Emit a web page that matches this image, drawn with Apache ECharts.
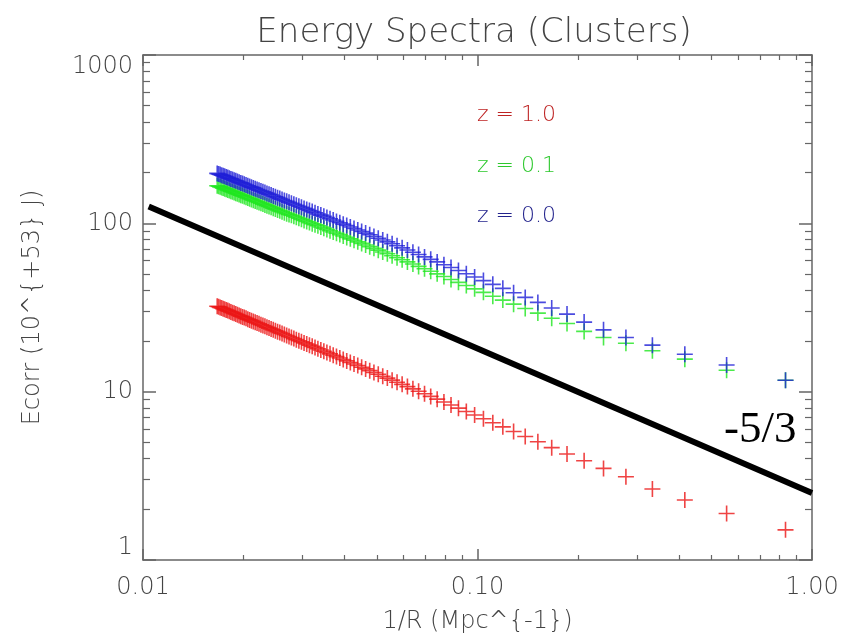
<!DOCTYPE html>
<html>
<head>
<meta charset="utf-8">
<title>Energy Spectra (Clusters)</title>
<script src="https://cdn.jsdelivr.net/npm/echarts@6/dist/echarts.min.js"></script>
<style>
  html, body { margin: 0; padding: 0; background: #fff; }
  #main { width: 843px; height: 642px; }
</style>
</head>
<body>
<div id="main"></div>
<script>
// scale R in Mpc (the x axis shows 1/R)
var radius = [
    1.2, 1.8, 2.4, 3.0, 3.6, 4.2, 4.8, 5.4, 6.0, 6.6,
    7.2, 7.8, 8.4, 9.0, 9.6, 10.2, 10.8, 11.4, 12.0, 12.6,
    13.2, 13.8, 14.4, 15.0, 15.6, 16.2, 16.8, 17.4, 18.0, 18.6,
    19.2, 19.8, 20.4, 21.0, 21.6, 22.2, 22.8, 23.4, 24.0, 24.6,
    25.2, 25.8, 26.4, 27.0, 27.6, 28.2, 28.8, 29.4, 30.0, 30.6,
    31.2, 31.8, 32.4, 33.0, 33.6, 34.2, 34.8, 35.4, 36.0, 36.6,
    37.2, 37.8, 38.4, 39.0, 39.6, 40.2, 40.8, 41.4, 42.0, 42.6,
    43.2, 43.8, 44.4, 45.0, 45.6, 46.2, 46.8, 47.4, 48.0, 48.6,
    49.2, 49.8, 50.4, 51.0, 51.6, 52.2, 52.8, 53.4, 54.0, 54.6,
    55.2, 55.8, 56.4, 57.0, 57.6, 58.2, 58.8, 59.4, 60.0
];

// Ecorr (10^53 J) for each redshift
var ecorrZ10 = [
    1.51, 1.89, 2.27, 2.64, 3.12, 3.50, 3.89, 4.26, 4.65, 5.04,
    5.42, 5.80, 6.18, 6.54, 6.91, 7.27, 7.63, 7.98, 8.33, 8.68,
    9.03, 9.37, 9.71, 10.05, 10.39, 10.72, 11.05, 11.38, 11.71, 12.04,
    12.36, 12.69, 13.01, 13.33, 13.65, 13.97, 14.29, 14.60, 14.91, 15.23,
    15.54, 15.85, 16.16, 16.47, 16.77, 17.08, 17.38, 17.69, 17.99, 18.29,
    18.59, 18.89, 19.19, 19.49, 19.78, 20.08, 20.37, 20.67, 20.96, 21.26,
    21.55, 21.84, 22.14, 22.43, 22.72, 23.00, 23.29, 23.58, 23.86, 24.15,
    24.43, 24.72, 25.00, 25.29, 25.57, 25.85, 26.14, 26.42, 26.69, 26.97,
    27.26, 27.54, 27.81, 28.09, 28.36, 28.64, 28.92, 29.20, 29.47, 29.75,
    30.02, 30.30, 30.57, 30.84, 31.11, 31.39, 31.66, 31.93, 32.20
];
var ecorrZ01 = [
    11.7, 13.4, 15.6, 17.5, 19.4, 21.0, 22.8, 25.4, 27.3, 29.3,
    31.2, 33.1, 35.0, 36.9, 38.9, 40.8, 42.7, 44.6, 46.4, 48.3,
    50.1, 51.9, 53.7, 55.5, 57.3, 59.0, 60.8, 62.5, 64.2, 65.9,
    67.6, 69.3, 71.0, 72.7, 74.3, 76.0, 77.6, 79.3, 80.9, 82.5,
    84.1, 85.7, 87.3, 88.9, 90.4, 92.0, 93.6, 95.1, 96.7, 98.0,
    99.5, 101.0, 102.6, 104.1, 105.6, 107.1, 108.6, 110.1, 111.6, 112.9,
    114.2, 115.6, 117.1, 118.6, 120.0, 121.5, 122.9, 124.4, 125.8, 127.2,
    128.7, 130.1, 131.5, 132.9, 134.3, 135.8, 137.2, 138.6, 140.0, 141.4,
    142.8, 144.2, 145.6, 146.9, 148.3, 149.7, 151.1, 152.4, 153.8, 155.2,
    156.5, 157.9, 159.2, 160.6, 161.9, 163.3, 164.7, 166.0, 167.3
];
var ecorrZ00 = [
    11.7, 14.4, 16.7, 18.9, 21.0, 23.3, 25.9, 28.9, 31.4, 33.9,
    36.3, 38.7, 41.1, 43.4, 45.7, 48.0, 50.2, 52.5, 54.6, 56.8,
    59.0, 61.1, 63.2, 65.3, 67.4, 69.5, 71.5, 73.6, 75.6, 77.6,
    79.6, 81.6, 83.5, 85.5, 87.5, 89.4, 91.3, 93.2, 95.1, 97.1,
    98.9, 100.8, 102.7, 104.6, 106.4, 108.2, 110.1, 111.9, 113.7, 115.5,
    117.4, 119.2, 121.0, 122.7, 124.5, 126.3, 128.1, 129.8, 131.6, 133.4,
    135.1, 136.8, 138.6, 140.3, 142.1, 143.8, 145.4, 147.2, 148.9, 150.6,
    152.3, 154.0, 155.6, 157.3, 159.0, 160.7, 162.4, 164.0, 165.6, 167.3,
    169.0, 170.6, 172.3, 173.9, 175.5, 177.1, 178.8, 180.4, 182.0, 183.6,
    185.2, 186.9, 188.5, 190.1, 191.7, 193.3, 194.9, 196.5, 198.0
];

// the -5/3 reference line
var slopeX = [0.0104, 1.0];
var slopeY = [126, 2.5];

var xTickLabels = ['0.01', '0.10', '1.00'];
var yTickLabels = ['1', '10', '100', '1000'];
var minorSteps = [2, 3, 4, 5, 6, 7, 8, 9];

window.onload = function () {
    var myChart = echarts.init(document.getElementById('main'));

    var gray = '#666';
    var textGray = '#444';
    var font = 'DejaVu Sans';
    var thin = 200;
    var cross = 'path://M0,10L20,10M10,0L10,20';

    // minor tick positions in log space (decades -2..-1 for x, 0..2 for y)
    var xMinor = [], yMinor = [];
    [-2, -1].forEach(function (d) {
        minorSteps.forEach(function (m) { xMinor.push(d + Math.log10(m)); });
    });
    [0, 1, 2].forEach(function (d) {
        minorSteps.forEach(function (m) { yMinor.push(d + Math.log10(m)); });
    });

    function pairs(values) {
        return radius.map(function (r, i) { return [1 / r, values[i]]; });
    }

    function logAxis(pos, min, max, tickLen, label) {
        return {
            type: 'log', logBase: 10, min: min, max: max, position: pos,
            axisLine: { show: true, onZero: false, lineStyle: { color: gray, width: 1.5 } },
            axisTick: { show: true, inside: true, length: tickLen, lineStyle: { color: gray, width: 1.5 } },
            axisLabel: label || { show: false },
            splitLine: { show: false }
        };
    }

    function minorAxis(pos, min, max, tickLen, values) {
        return {
            type: 'value', min: min, max: max, position: pos,
            axisLine: { show: false, onZero: false },
            axisTick: { show: true, inside: true, length: tickLen, customValues: values,
                lineStyle: { color: gray, width: 1.2 } },
            axisLabel: { show: false },
            splitLine: { show: false }
        };
    }

    var xBottom = logAxis('bottom', 0.01, 1, 11, {
        margin: 16, fontSize: 24, color: textGray, fontFamily: font, fontWeight: thin,
        formatter: function (v) { return xTickLabels[Math.round(Math.log10(v)) + 2]; }
    });
    xBottom.name = '1/R (Mpc^{-1})';
    xBottom.nameLocation = 'middle';
    xBottom.nameGap = 50;
    xBottom.nameTextStyle = { fontSize: 24, color: textGray, fontFamily: font, fontWeight: thin };

    var yLeft = logAxis('left', 1, 1000, 13, {
        margin: 10, fontSize: 24, color: textGray, fontFamily: font, fontWeight: thin,
        verticalAlignMinLabel: 'bottom', verticalAlignMaxLabel: 'top',
        formatter: function (v) { return yTickLabels[Math.round(Math.log10(v))]; }
    });
    yLeft.name = 'Ecorr (10^{+53} J)';
    yLeft.nameLocation = 'middle';
    yLeft.nameGap = 98;
    yLeft.nameTextStyle = { fontSize: 24, color: textGray, fontFamily: font, fontWeight: thin };

    function marks(name, values, color) {
        return {
            name: name, type: 'scatter', xAxisIndex: 0, yAxisIndex: 0,
            symbol: cross, symbolSize: 16,
            itemStyle: { color: 'transparent', borderColor: color, borderWidth: 1.6 },
            data: pairs(values)
        };
    }

    var option = {
        animation: false,
        backgroundColor: '#fff',
        title: {
            text: 'Energy Spectra (Clusters)',
            left: 474, top: 16, padding: 0, textAlign: 'center',
            textStyle: { fontSize: 34, fontWeight: thin, color: textGray, fontFamily: font }
        },
        grid: { left: 143, right: 31, top: 55, bottom: 82, containLabel: false },
        xAxis: [
            xBottom,
            logAxis('top', 0.01, 1, 11),
            minorAxis('bottom', -2, 0, 5, xMinor),
            minorAxis('top', -2, 0, 5, xMinor)
        ],
        yAxis: [
            yLeft,
            logAxis('right', 1, 1000, 13),
            minorAxis('left', 0, 3, 7, yMinor),
            minorAxis('right', 0, 3, 7, yMinor)
        ],
        series: [
            marks('z = 1.0', ecorrZ10, 'rgb(235,20,20)'),
            marks('z = 0.1', ecorrZ01, 'rgb(30,230,30)'),
            marks('z = 0.0', ecorrZ00, 'rgb(30,30,215)'),
            {
                name: '-5/3', type: 'line', xAxisIndex: 0, yAxisIndex: 0,
                symbol: 'none', lineStyle: { color: '#000', width: 6 },
                data: slopeX.map(function (x, i) { return [x, slopeY[i]]; })
            }
        ],
        graphic: [
            { type: 'text', x: 477, y: 115, style: { text: 'z = 1.0', fill: 'rgb(190,35,35)',
                font: '200 22px "DejaVu Sans"', textAlign: 'left', textVerticalAlign: 'middle' } },
            { type: 'text', x: 477, y: 166, style: { text: 'z = 0.1', fill: 'rgb(45,200,45)',
                font: '200 22px "DejaVu Sans"', textAlign: 'left', textVerticalAlign: 'middle' } },
            { type: 'text', x: 477, y: 216, style: { text: 'z = 0.0', fill: 'rgb(35,35,140)',
                font: '200 22px "DejaVu Sans"', textAlign: 'left', textVerticalAlign: 'middle' } },
            { type: 'text', x: 724, y: 430, style: { text: '-5/3', fill: '#000',
                font: '45px "Liberation Serif"', textAlign: 'left', textVerticalAlign: 'middle' } }
        ]
    };

    myChart.setOption(option);
};
</script>
</body>
</html>
